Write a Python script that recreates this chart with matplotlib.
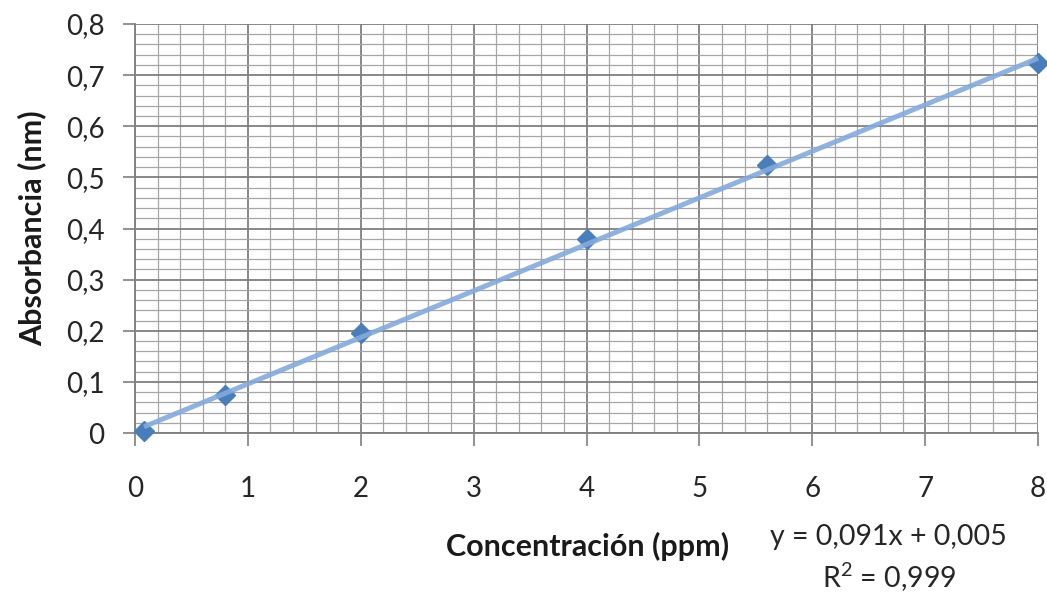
import matplotlib.pyplot as plt
from matplotlib.ticker import MultipleLocator, FuncFormatter

plt.rcParams['font.family'] = ['Lato', 'DejaVu Sans']
plt.rcParams['mathtext.fontset'] = 'custom'
plt.rcParams['mathtext.rm'] = 'Lato'

# data
conc = [0.08, 0.8, 2, 4, 5.6, 8]
absorb = [0.003, 0.075, 0.195, 0.38, 0.525, 0.724]

# trendline as printed on the chart
SLOPE = 0.091
INTERCEPT = 0.005
eq_text = 'y = 0,091x + 0,005'
r2_text = r'R$^{\mathrm{2}}$ = 0,999'

fig = plt.figure(figsize=(10.47, 5.92), dpi=100)
ax = fig.add_axes([135 / 1047, 1 - 433 / 592, 903 / 1047, 409 / 592])

ax.set_xlim(0, 8)
ax.set_ylim(0, 0.8)

ax.xaxis.set_major_locator(MultipleLocator(1))
ax.xaxis.set_minor_locator(MultipleLocator(0.2))
ax.yaxis.set_major_locator(MultipleLocator(0.1))
ax.yaxis.set_minor_locator(MultipleLocator(0.02))

ax.grid(which='major', color='#7f7f7f', lw=1.3, zorder=0)
ax.grid(which='minor', color='#a6a6a6', lw=0.9, zorder=0)
ax.set_axisbelow(True)

for s in ['top', 'right']:
    ax.spines[s].set_visible(False)
for s in ['left', 'bottom']:
    ax.spines[s].set_color('#7f7f7f')
    ax.spines[s].set_linewidth(1.3)

ax.tick_params(which='major', length=9, width=1.2, color='#7f7f7f', labelsize=20, labelcolor='#262626')
ax.tick_params(axis='x', which='major', pad=22)
ax.tick_params(axis='y', which='major', pad=13)
ax.tick_params(which='minor', length=0)

fmt = FuncFormatter(lambda v, p: '0' if abs(v) < 1e-9 else ('%.1f' % v).replace('.', ','))
ax.yaxis.set_major_formatter(fmt)
ax.xaxis.set_major_formatter(FuncFormatter(lambda v, p: '%d' % v))

ax.plot(conc, absorb, ls='none', marker='D', ms=10.5, color='#4a7ebb', mec='#4a7ebb',
        clip_on=False, zorder=3)

x0, x1 = min(conc), max(conc)
ax.plot([x0, x1], [SLOPE * x0 + INTERCEPT, SLOPE * x1 + INTERCEPT], color='#84aadb', lw=3.6,
        solid_capstyle='butt', alpha=0.9, clip_on=False, zorder=4)

fig.text(32 / 1047, 1 - 228 / 592, 'Absorbancia (nm)', rotation=90, ha='center', va='center',
         fontsize=22, fontweight='bold', color='#1a1a1a')
fig.text(588 / 1047, 1 - 546 / 592, 'Concentración (ppm)', ha='center', va='center',
         fontsize=22, fontweight='bold', color='#1a1a1a')
fig.text(888 / 1047, 1 - 537 / 592, eq_text, ha='center', va='center', fontsize=20.5, color='#262626')
fig.text(889 / 1047, 1 - 577 / 592, r2_text, ha='center', va='center', fontsize=20.5, color='#262626')

fig.savefig('out.png', dpi=100)
